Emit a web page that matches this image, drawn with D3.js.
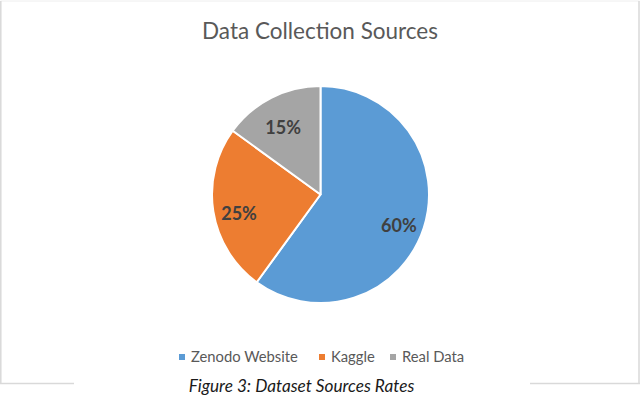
<!DOCTYPE html>
<html><head><meta charset="utf-8">
<script src="https://cdn.jsdelivr.net/npm/d3@7"></script>
<style>body{margin:0;background:#fff}svg{display:block}</style>
</head><body>
<svg id="c" width="640" height="397"></svg>
<script>
const categories = ["Zenodo Website", "Kaggle", "Real Data"];
const values = [60, 25, 15];
const labels = ["60%", "25%", "15%"];
const colors = ["#5b9bd5", "#ed7d31", "#a5a5a5"];
const title = "Data Collection Sources";
const caption = "Figure 3: Dataset Sources Rates";

const svg = d3.select("#c");
const font = "Lato, 'Open Sans', sans-serif";

// chart border
const bc = "#d9d9d9";
svg.append("line").attr("x1",0.5).attr("y1",1).attr("x2",639.5).attr("y2",1).attr("stroke","#eeeeee");
svg.append("line").attr("x1",0.8).attr("y1",1).attr("x2",0.8).attr("y2",383.5).attr("stroke",bc).attr("stroke-width",1.5);
svg.append("line").attr("x1",639).attr("y1",1).attr("x2",639).attr("y2",383.5).attr("stroke",bc).attr("stroke-width",1.5);
svg.append("line").attr("x1",0).attr("y1",383.5).attr("x2",74).attr("y2",383.5).attr("stroke",bc).attr("stroke-width",1.5);
svg.append("line").attr("x1",530).attr("y1",383.5).attr("x2",640).attr("y2",383.5).attr("stroke",bc).attr("stroke-width",1.5);

svg.append("text").attr("x",320).attr("y",39).attr("text-anchor","middle")
  .attr("font-family",font).attr("font-size",22.5).attr("fill","#595959").text(title);

const cx = 320.5, cy = 194.5, r = 108.5;
const pie = d3.pie().sort(null).value(d => d)(values);
const arc = d3.arc().innerRadius(0).outerRadius(r);
const g = svg.append("g").attr("transform",`translate(${cx},${cy})`);
g.selectAll("path").data(pie).join("path")
  .attr("d",arc).attr("fill",(d,i)=>colors[i])
  .attr("stroke","#fff").attr("stroke-width",2).attr("stroke-linejoin","round");

const lab = d3.arc().innerRadius(r*0.76).outerRadius(r*0.76);
g.selectAll("text").data(pie).join("text")
  .attr("transform",d=>{const c=lab.centroid(d);return `translate(${c[0]},${c[1]+6})`;})
  .attr("text-anchor","middle").attr("dy","0.36em")
  .attr("font-family",font).attr("font-weight","bold").attr("font-size",18)
  .attr("fill","#404040").text((d,i)=>labels[i]);

// legend
const legX = [182, 322, 393];
const lg = svg.append("g");
categories.forEach((c,i)=>{
  lg.append("rect").attr("x",legX[i]-3).attr("y",354).attr("width",6).attr("height",6).attr("fill",colors[i]);
  lg.append("text").attr("x",legX[i]+9).attr("y",357).attr("dy","0.35em")
    .attr("font-family",font).attr("font-size",14.8).attr("fill","#595959").text(c);
});

svg.append("text").attr("x",301.5).attr("y",391.5).attr("text-anchor","middle")
  .attr("font-family",font).attr("font-style","italic").attr("font-size",17.2)
  .attr("fill","#1a1a1a").text(caption);
</script>
</body></html>
